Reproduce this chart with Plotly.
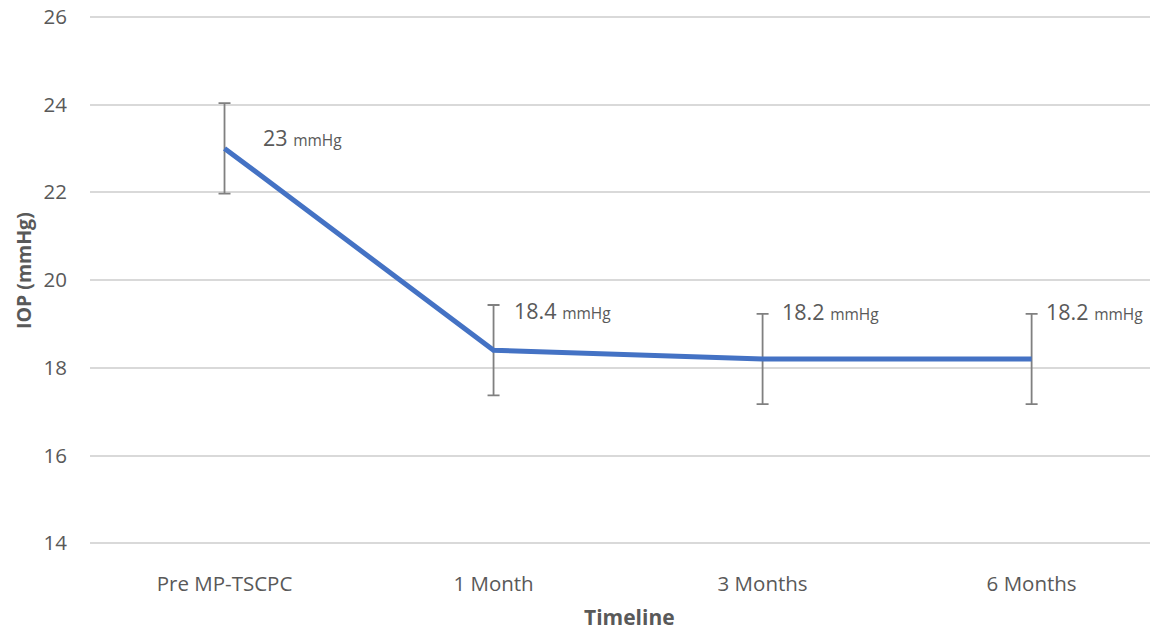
import plotly.graph_objects as go

categories = ["Pre MP-TSCPC", "1 Month", "3 Months", "6 Months"]
iop_mean = [23, 18.4, 18.2, 18.2]
iop_err = [1.03, 1.03, 1.03, 1.03]
value_labels = ["23", "18.4", "18.2", "18.2"]
unit_label = "mmHg"
x_title = "Timeline"
y_title = "IOP (mmHg)"
y_ticks = [14, 16, 18, 20, 22, 24, 26]

# label offsets in pixels (style)
label_dx = [36, 18, 17, 12]
label_dy = [11, 40, 47, 47]

FONT = "'Open Sans', Lato, sans-serif"
GRAY = "#595959"

fig = go.Figure()
fig.add_trace(go.Scatter(
    x=categories, y=iop_mean, mode="lines",
    line=dict(color="#4472C4", width=5),
    error_y=dict(type="data", array=iop_err, visible=True,
                 color="#808080", thickness=1.8, width=6),
    showlegend=False, hoverinfo="skip", cliponaxis=False,
))

for c, v, t, dx, dy in zip(categories, iop_mean, value_labels, label_dx, label_dy):
    fig.add_annotation(
        x=c, y=v, xref="x", yref="y",
        text=f"{t} <span style='font-size:15.5px'>{unit_label}</span>",
        showarrow=False, xanchor="left", yanchor="middle",
        xshift=dx, yshift=dy,
        font=dict(family=FONT, size=21.5, color=GRAY),
    )

# axis titles
fig.add_annotation(
    text=f"<b>{x_title}</b>", xref="paper", yref="paper", x=0.5085, y=0,
    xanchor="center", yanchor="middle", yshift=-72, showarrow=False, borderpad=0,
    font=dict(family=FONT, size=21, color=GRAY),
)
fig.add_annotation(
    text=f"<b>{y_title}</b>", xref="paper", yref="paper", x=0, y=0.5,
    xanchor="center", yanchor="middle", xshift=-67, yshift=9, textangle=-90,
    showarrow=False, font=dict(family=FONT, size=19.5, color=GRAY),
)

fig.update_layout(
    width=1150, height=631,
    margin=dict(l=90, r=0, t=15, b=86, autoexpand=False),
    plot_bgcolor="white", paper_bgcolor="white",
    font=dict(family=FONT, color=GRAY),
    xaxis=dict(
        range=[-0.5, 3.44], showgrid=False, showline=False, zeroline=False,
        automargin=False,
        tickfont=dict(size=20.5, color=GRAY), ticklabelstandoff=24,
    ),
    yaxis=dict(
        range=[13.96, 26.04], tickvals=y_ticks,
        showgrid=True, gridcolor="#d9d9d9", gridwidth=1.5,
        zeroline=False, showline=False, automargin=False,
        tickfont=dict(size=20.5, color=GRAY), ticklabelstandoff=22,
    ),
)

fig.write_html("out.html", config={"displayModeBar": False},
               post_script="document.body.style.margin='0px';")
